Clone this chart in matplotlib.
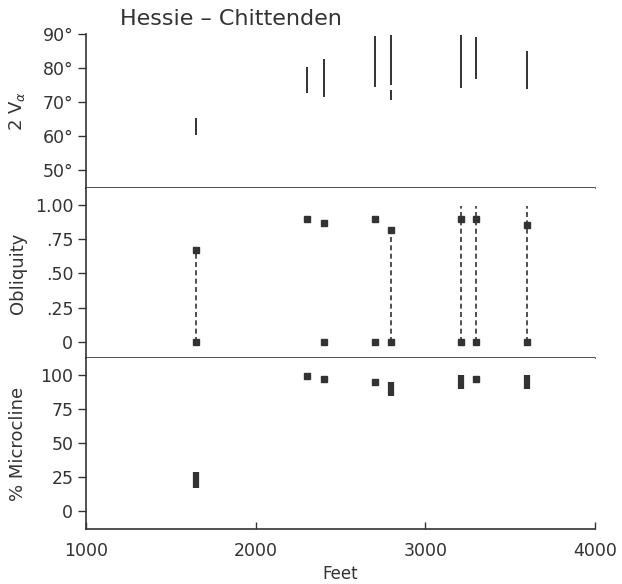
import numpy as np
import matplotlib.pyplot as plt

plt.rcParams['font.family'] = ['DejaVu Sans']

# 2V alpha ranges (degrees)
v_feet = [1650, 2300, 2400, 2700, 2800, 2800, 3210, 3300, 3600]
v_low = [60.3, 72.6, 71.5, 74.4, 75.0, 70.6, 74.1, 76.8, 73.8]
v_high = [65.3, 80.3, 82.6, 89.4, 89.7, 73.5, 89.7, 89.0, 85.0]

# obliquity: upper square, lower square (None = absent), dashed range top
ob_feet = [1650, 2300, 2400, 2700, 2800, 3210, 3300, 3600]
ob_high = [0.67, 0.90, 0.87, 0.90, 0.82, 0.90, 0.90, 0.85]
ob_low = [0, None, 0, 0, 0, 0, 0, 0]
ob_dash_top = [0.67, None, None, None, 0.82, 0.99, 0.99, 0.99]

# % microcline ranges
mc_feet = [1650, 2300, 2400, 2700, 2800, 3210, 3300, 3600]
mc_low = [17, 99.5, 97, 94.6, 85, 90, 97, 90]
mc_high = [29, 99.5, 97, 94.6, 95, 100, 97, 100]

ink = '#333333'

fig = plt.figure(figsize=(6.22, 5.84), dpi=100)
gs = fig.add_gridspec(3, 1, height_ratios=[154, 170, 171], hspace=0,
                      left=0.138, right=0.957, top=0.942, bottom=0.094)
ax1 = fig.add_subplot(gs[0])
ax2 = fig.add_subplot(gs[1], sharex=ax1)
ax3 = fig.add_subplot(gs[2], sharex=ax1)

for ax in (ax1, ax2, ax3):
    ax.spines['right'].set_visible(False)
    ax.spines['top'].set_visible(False)
    for s in ('left', 'bottom'):
        ax.spines[s].set_color(ink)
        ax.spines[s].set_linewidth(1.2)
    ax.tick_params(axis='y', direction='out', length=6, width=1, pad=3,
                   labelsize=12.5, colors=ink)
    ax.yaxis.set_label_coords(-0.116, 0.5)

# top panel
ax1.vlines(v_feet, v_low, v_high, color=ink, lw=1.4)
ax1.set_ylim(44.7, 90)
ax1.set_yticks([50, 60, 70, 80, 90])
ax1.set_yticklabels(['50°', '60°', '70°', '80°', '90°'])
ax1.set_ylabel('2 V$_\\alpha$', fontsize=13, color=ink)
ax1.tick_params(axis='x', bottom=False, labelbottom=False)

# middle panel
for x, hi, lo, dt in zip(ob_feet, ob_high, ob_low, ob_dash_top):
    if dt is not None:
        ax2.plot([x, x], [0, dt], ls=(0, (3, 2)), color=ink, lw=1.2)
    ax2.plot([x], [hi], marker='s', ms=5, color=ink, ls='none')
    if lo is not None:
        ax2.plot([x], [lo], marker='s', ms=5, color=ink, ls='none')
ax2.set_ylim(-0.117, 1.124)
ax2.set_yticks([0, 0.25, 0.5, 0.75, 1.0])
ax2.set_yticklabels(['0', '.25', '.50', '.75', '1.00'])
ax2.set_ylabel('Obliquity', fontsize=13, color=ink)
ax2.tick_params(axis='x', bottom=False, labelbottom=False)

# bottom panel
for x, lo, hi in zip(mc_feet, mc_low, mc_high):
    if hi > lo:
        ax3.vlines(x, lo, hi, color=ink, lw=4.5)
    else:
        ax3.plot([x], [lo], marker='s', ms=5, color=ink, ls='none')
ax3.set_ylim(-13.3, 112.6)
ax3.set_yticks([0, 25, 50, 75, 100])
ax3.set_ylabel('% Microcline', fontsize=13, color=ink)

ax3.set_xlim(1000, 4000)
ax3.set_xticks([1000, 2000, 3000, 4000])
ax3.tick_params(axis='x', direction='in', length=5, width=1, pad=9,
                labelsize=12.5, colors=ink)
ax3.set_xlabel('Feet', fontsize=12, color=ink, labelpad=4)

fig.text(0.193, 0.968, 'Hessie \u2013 Chittenden', fontsize=16, color=ink,
         va='center', ha='left')

fig.savefig('out.png', dpi=100)
